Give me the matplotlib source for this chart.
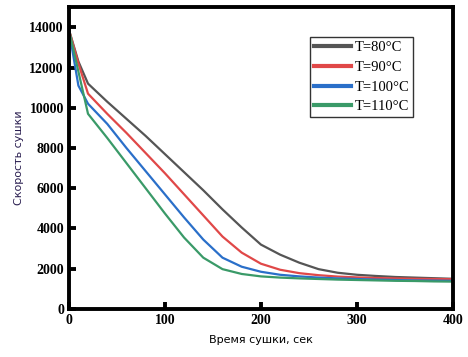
import numpy as np
import matplotlib.pyplot as plt

# drying time, s
time_s = [0, 10, 20, 40, 60, 80, 100, 120, 140, 160, 180, 200,
          220, 240, 260, 280, 300, 320, 340, 360, 380, 400]

rate_80 = [13900, 12300, 11200, 10300, 9450, 8600, 7700, 6800, 5900, 4950, 4050, 3200,
           2700, 2300, 1980, 1800, 1700, 1640, 1590, 1560, 1530, 1500]
rate_90 = [13900, 12200, 10700, 9700, 8750, 7750, 6750, 5700, 4650, 3600, 2800, 2250,
           1950, 1780, 1680, 1610, 1570, 1540, 1520, 1500, 1490, 1480]
rate_100 = [13900, 11100, 10200, 9200, 8000, 6850, 5700, 4550, 3450, 2550, 2100, 1850,
            1700, 1620, 1560, 1520, 1490, 1460, 1440, 1420, 1410, 1400]
rate_110 = [13900, 11800, 9700, 8500, 7250, 6000, 4750, 3550, 2550, 1980, 1740, 1620,
            1560, 1520, 1490, 1460, 1440, 1420, 1400, 1390, 1370, 1360]

labels = ['T=80°C', 'T=90°C', 'T=100°C', 'T=110°C']
colors = ['#555555', '#e04848', '#2a6fc9', '#3a9a68']

fig = plt.figure(figsize=(4.68, 3.57), dpi=100)
ax = fig.add_axes([0.147, 0.1345, 0.821, 0.8455])

for series, label, c in zip([rate_80, rate_90, rate_100, rate_110], labels, colors):
    ax.plot(time_s, series, color=c, lw=1.6, label=label)

ax.set_xlim(0, 400)
ax.set_ylim(0, 15000)
ax.set_xticks([0, 100, 200, 300, 400])
ax.set_yticks(np.arange(0, 15000, 2000))

for sp in ax.spines.values():
    sp.set_linewidth(2.8)
ax.tick_params(direction='in', length=5, width=2.8, top=False, right=False)
for lab in ax.get_xticklabels() + ax.get_yticklabels():
    lab.set_fontfamily('Liberation Serif')
    lab.set_fontweight('bold')
    lab.set_fontsize(10)

ax.set_xlabel('Время сушки, сек', fontsize=8, family='DejaVu Sans', labelpad=6)
ax.set_ylabel('Скорость сушки', fontsize=8, family='DejaVu Sans', color='#2a1e50', labelpad=4)

leg = ax.legend(loc='upper left', bbox_to_anchor=(0.629, 0.9), prop={'family': 'Liberation Serif', 'size': 10.5},
                frameon=True, fancybox=False, edgecolor='black', handlelength=2.5, handletextpad=0.3,
                borderpad=0.25, labelspacing=0.45, borderaxespad=0)
leg.get_frame().set_linewidth(1.0)
for line in leg.get_lines():
    line.set_linewidth(3)

fig.savefig('out.png', dpi=100)
